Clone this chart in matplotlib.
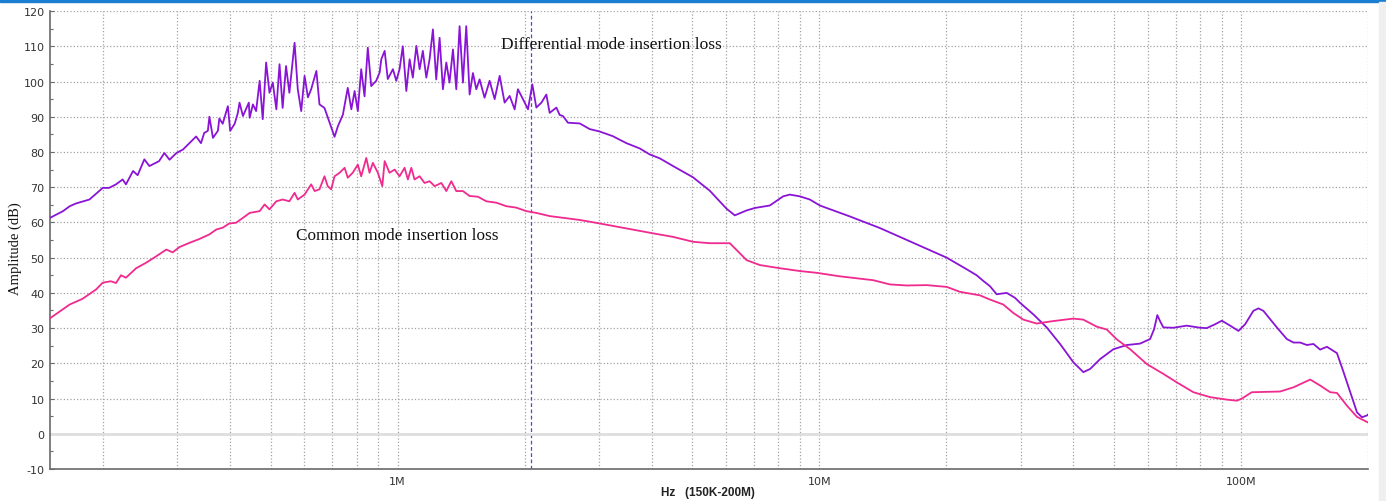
import matplotlib
matplotlib.use("Agg")
import matplotlib.pyplot as plt
from matplotlib.patches import Rectangle
from matplotlib.ticker import FixedLocator, NullFormatter, MultipleLocator

plt.rcParams["axes.unicode_minus"] = False

# Differential mode insertion loss (purple), frequency in MHz
dm_freq_mhz = [
    0.150, 0.161, 0.167, 0.173, 0.186, 0.196, 0.200, 0.207, 0.215, 0.223, 0.227, 0.236,
    0.242, 0.251, 0.258, 0.272, 0.280, 0.288, 0.299, 0.310, 0.321, 0.333, 0.342, 0.348,
    0.355, 0.358, 0.365, 0.375, 0.378, 0.385, 0.396, 0.401, 0.411, 0.418, 0.422,
    0.430, 0.444, 0.446, 0.454, 0.462, 0.471, 0.479, 0.488, 0.497, 0.506, 0.516, 0.525,
    0.534, 0.544, 0.554, 0.570, 0.580, 0.591, 0.602, 0.613, 0.624, 0.642, 0.653, 0.671,
    0.690, 0.709, 0.722, 0.742, 0.762, 0.777, 0.791, 0.805, 0.820, 0.835, 0.850, 0.866,
    0.890, 0.907, 0.915, 0.932, 0.948, 0.975, 0.993,
    1.011, 1.029, 1.049, 1.068, 1.087, 1.108, 1.128, 1.148, 1.170, 1.191, 1.213, 1.235,
    1.258, 1.281, 1.305, 1.328, 1.353, 1.378, 1.403, 1.429, 1.455, 1.482, 1.509, 1.537,
    1.565, 1.608, 1.653, 1.699, 1.746, 1.794, 1.844, 1.895, 1.929, 1.983, 2.038, 2.087,
    2.133, 2.193, 2.253, 2.294, 2.380, 2.423, 2.467, 2.535,
    2.703, 2.854, 3.015, 3.236, 3.488, 3.751, 3.961, 4.183, 4.499, 5.019, 5.498, 6.024,
    6.303, 6.721, 7.031, 7.630, 8.206, 8.511, 8.990, 9.494, 10.03, 11.81, 13.92, 16.70,
    20.04, 22.35, 23.60, 24.47, 25.38, 26.33, 27.81, 29.09, 29.90, 32.16, 34.59, 37.21,
    40.01, 42.26, 43.84, 46.30, 49.77, 53.56, 57.60, 60.83, 62.18, 63.28, 64.22, 65.40,
    69.08, 74.31, 79.91, 82.89, 86.76, 90.00, 94.17, 98.54, 102.2, 106.9, 109.9, 112.9,
    121.5, 128.3, 133.1, 138.0, 143.2, 148.4, 153.9, 159.7, 168.7, 174.9, 181.4, 188.2,
    193.4, 198.7, 200.0,
]
dm_db = [
    61.3, 63.2, 64.6, 65.4, 66.5, 68.9, 69.8, 69.8, 70.8, 72.2, 70.8, 74.6,
    73.4, 77.9, 76.0, 77.4, 79.7, 77.8, 79.7, 80.7, 82.5, 84.4, 82.5, 85.4,
    86.0, 90.0, 84.0, 86.0, 89.5, 88.0, 93.0, 86.0, 88.0, 91.0, 94.0,
    90.2, 94.0, 89.7, 93.5, 91.6, 100.2, 89.3, 105.4, 96.8, 99.7, 92.1, 104.9,
    92.5, 104.4, 96.8, 111.0, 97.8, 91.6, 101.6, 95.5, 97.8, 103.0, 93.5, 92.5,
    88.3, 84.3, 87.3, 90.6, 98.2, 92.1, 97.3, 91.6, 103.5, 95.8, 109.6, 98.7,
    100.2, 102.6, 106.3, 108.7, 100.7, 103.5, 100.2,
    103.5, 110.0, 97.3, 106.3, 101.1, 110.1, 103.5, 108.7, 101.1, 106.3, 114.8, 100.6,
    112.4, 97.8, 105.4, 99.7, 109.1, 97.8, 115.7, 99.7, 115.7, 96.3, 102.4, 97.8,
    100.6, 95.4, 100.2, 95.0, 101.6, 94.0, 95.9, 92.1, 97.8, 95.0, 92.1, 99.2,
    92.6, 94.0, 96.3, 91.1, 92.6, 90.5, 90.2, 88.3,
    88.1, 86.5, 85.8, 84.5, 82.5, 81.0, 79.3, 78.2, 76.0, 72.8, 69.0, 63.9,
    62.0, 63.4, 64.1, 64.8, 67.4, 67.9, 67.4, 66.5, 64.8, 61.7, 58.4, 54.2,
    50.0, 46.7, 45.0, 43.4, 41.9, 39.6, 40.0, 38.6, 37.2, 33.9, 30.2, 25.5,
    20.3, 17.5, 18.4, 21.2, 24.0, 25.2, 25.6, 26.9, 29.7, 33.7, 32.0, 30.2,
    30.1, 30.7, 30.1, 30.0, 31.1, 32.1, 30.7, 29.2, 31.1, 34.9, 35.6, 34.9,
    30.2, 26.9, 25.9, 25.9, 25.2, 25.5, 23.9, 24.7, 22.9, 17.5, 11.8, 6.1,
    4.7, 5.2, 5.5,
]

# Common mode insertion loss (pink), frequency in MHz
cm_freq_mhz = [
    0.150, 0.167, 0.179, 0.193, 0.200, 0.209, 0.215, 0.221, 0.227, 0.240, 0.253, 0.268,
    0.283, 0.293, 0.304, 0.321, 0.339, 0.358, 0.372, 0.385, 0.399, 0.414, 0.430, 0.446,
    0.471, 0.484, 0.497, 0.516, 0.534, 0.554, 0.570, 0.580, 0.602, 0.624, 0.636, 0.653,
    0.671, 0.683, 0.696, 0.709, 0.729, 0.749, 0.762, 0.783, 0.805, 0.820, 0.843, 0.858,
    0.874, 0.898, 0.920, 0.932, 0.957, 0.984,
    1.011, 1.039, 1.058, 1.078, 1.097, 1.128, 1.159, 1.191, 1.224, 1.270, 1.305, 1.341,
    1.378, 1.429, 1.482, 1.550, 1.623, 1.715, 1.811, 1.912, 2.020, 2.133, 2.294, 2.467,
    2.703, 3.015, 3.488, 4.034, 4.499, 5.019, 5.498, 6.133, 6.362, 6.721, 7.224, 8.058,
    8.990, 9.849, 11.18, 13.42, 14.70, 16.10, 17.96, 20.04, 21.54, 24.03, 25.38, 27.29,
    28.83, 30.45, 32.76, 35.86, 40.01, 42.26, 45.47, 48.02, 50.72, 54.55, 59.74, 65.40,
    70.38, 77.06, 84.44, 92.49, 97.68, 100.4, 106.0, 123.7, 133.1, 145.8, 153.9, 162.6,
    168.7, 178.1, 188.2, 200.0,
]
cm_db = [
    32.8, 36.7, 38.3, 41.0, 42.9, 43.3, 42.8, 45.0, 44.3, 47.0, 48.5, 50.4,
    52.3, 51.5, 53.0, 54.2, 55.3, 56.6, 58.0, 58.5, 59.7, 59.9, 61.3, 62.7,
    63.2, 65.1, 63.7, 66.0, 66.5, 66.0, 68.4, 66.5, 67.9, 70.8, 68.9, 69.4,
    73.1, 70.3, 69.4, 73.1, 74.1, 75.5, 72.7, 74.1, 76.4, 73.1, 78.3, 74.1,
    76.9, 74.1, 70.3, 77.4, 74.1, 75.0,
    73.1, 75.5, 72.2, 75.5, 72.2, 73.1, 71.2, 71.7, 70.3, 71.2, 68.9, 71.7,
    68.9, 68.9, 67.5, 67.3, 66.0, 65.6, 64.6, 64.2, 63.2, 62.7, 61.8, 61.3,
    60.7, 59.7, 58.3, 56.9, 55.9, 54.5, 54.1, 54.1, 52.2, 49.3, 47.9, 47.0,
    46.2, 45.7, 44.7, 43.6, 42.4, 42.1, 42.2, 41.7, 40.3, 39.3, 38.1, 36.7,
    34.3, 32.4, 31.3, 32.0, 32.7, 32.4, 30.4, 29.6, 26.8, 24.0, 19.8, 17.0,
    14.6, 11.8, 10.4, 9.7, 9.4, 10.0, 11.8, 12.0, 13.2, 15.4, 13.7, 11.8,
    11.6, 8.0, 4.8, 3.2,
]

x_major = [1, 10, 100]
x_major_labels = ["1M", "10M", "100M"]
marker_freq_mhz = 2.07


def main():
    fig = plt.figure(figsize=(13.86, 5.02), dpi=100)
    ax = fig.add_axes([0.0361, 0.0637, 0.9510, 0.9123])

    ax.set_xscale("log")
    ax.set_xlim(0.15, 200)
    ax.set_ylim(-10, 120)

    # grid
    minors = [m * 10.0 ** k for k in (-1, 0, 1, 2) for m in range(2, 10)]
    ax.xaxis.set_major_locator(FixedLocator(x_major))
    ax.xaxis.set_minor_locator(FixedLocator([v for v in minors if 0.15 < v <= 200]))
    ax.xaxis.set_minor_formatter(NullFormatter())
    ax.set_xticklabels(x_major_labels)
    ax.yaxis.set_major_locator(MultipleLocator(10))
    ax.yaxis.set_minor_locator(MultipleLocator(5))
    ax.grid(which="both", axis="x", linestyle=":", color="#a3a3a3", linewidth=0.9)
    ax.grid(which="major", axis="y", linestyle=":", color="#a3a3a3", linewidth=0.9)
    ax.axhline(0, color="#dedede", linewidth=2.0, zorder=2.2)

    ax.axvline(marker_freq_mhz, color="#4a4ae0", linestyle=(0, (3, 2)), linewidth=0.9)

    ax.plot(dm_freq_mhz, dm_db, color="#8a14d6", linewidth=1.3, zorder=3)
    ax.plot(cm_freq_mhz, cm_db, color="#f02a8e", linewidth=1.3, zorder=3)

    ax.text(1.756, 110.6, "Differential mode insertion loss", family="Liberation Serif",
            fontsize=12.5, color="#111111", va="center", ha="left")
    ax.text(0.573, 56.4, "Common mode insertion loss", family="Liberation Serif",
            fontsize=12.4, color="#111111", va="center", ha="left")

    for s in ("top", "right"):
        ax.spines[s].set_visible(False)
    for s in ("left", "bottom"):
        ax.spines[s].set_color("#6a6a6a")
        ax.spines[s].set_linewidth(1.2)

    ax.tick_params(axis="y", which="major", direction="in", length=3, width=0.8,
                   colors="#6a6a6a", labelcolor="#333333", labelsize=8, pad=4)
    ax.tick_params(axis="y", which="minor", direction="in", length=2, width=0.8,
                   colors="#6a6a6a")
    ax.tick_params(axis="x", which="both", length=0, labelcolor="#333333",
                   labelsize=8, pad=5)

    fig.text(0.011, 0.505, "Amplitude (dB)", rotation=90, family="Liberation Serif",
             fontsize=10.5, va="center", ha="center", color="#111111")
    fig.text(0.511, 0.018, "Hz   (150K-200M)", family="Liberation Sans", fontweight="bold",
             fontsize=8.5, va="center", ha="center", color="#222222")

    # window chrome: blue strip at the top, grey strip at the right
    fig.add_artist(Rectangle((0, 1 - 3 / 502), 1, 3 / 502, transform=fig.transFigure,
                             color="#1a7fd0", zorder=10))
    fig.add_artist(Rectangle((1 - 7 / 1386, 0), 7 / 1386, 1 - 3 / 502,
                             transform=fig.transFigure, color="#efefef", zorder=10))

    fig.savefig("out.png", dpi=100)
    plt.close(fig)


if __name__ == "__main__":
    main()
